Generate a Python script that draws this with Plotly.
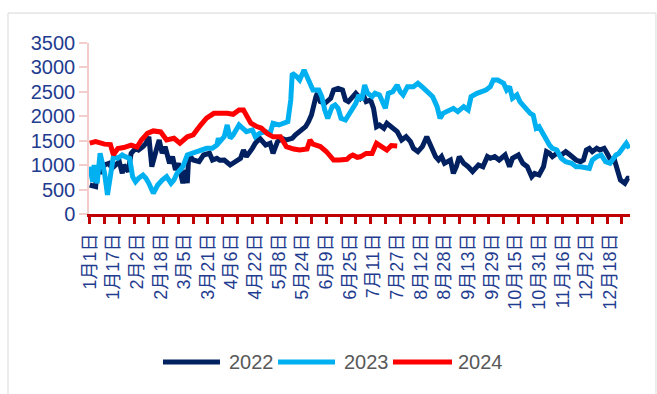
import plotly.graph_objects as go

# ---------------- data ----------------
tick_labels = ["1月1日", "1月17日", "2月2日", "2月18日", "3月5日", "3月21日", "4月6日",
               "4月22日", "5月8日", "5月24日", "6月9日", "6月25日", "7月11日", "7月27日",
               "8月12日", "8月28日", "9月13日", "9月29日", "10月15日", "10月31日",
               "11月16日", "12月2日", "12月18日"]
tick_days = [0, 16, 32, 48, 64, 80, 96, 112, 128, 144, 160, 176, 192, 208,
             224, 240, 256, 272, 288, 304, 320, 336, 352]

days_2022 = [0, 4, 5, 7, 10, 13, 15, 18, 20, 22, 23, 26, 28, 31, 33, 36, 38, 40, 41, 42,
             45, 47, 49, 51, 54, 56, 58, 60, 63, 65, 66, 67, 70, 74, 77, 81, 83, 86, 88, 91,
             95, 99, 102, 104, 106, 110, 112, 115, 119, 122, 124, 127, 130, 133, 137, 139, 142, 146, 148, 150,
             153, 154, 156, 159, 163, 165, 168, 171, 173, 175, 178, 180, 183, 185, 187, 190, 192, 194, 196, 199,
             201, 204, 208, 211, 214, 217, 219, 222, 225, 228, 230, 234, 236, 238, 240, 244, 246, 248, 250, 253,
             256, 259, 263, 266, 269, 271, 274, 277, 281, 284, 286, 290, 293, 296, 299, 301, 304, 307, 309, 311,
             313, 316, 319, 322, 325, 327, 329, 332, 334, 336, 338, 340, 343, 345, 348, 350, 353, 355, 357, 359,
             362, 364, 365]
vals_2022 = [594, 560, 968, 832, 1003, 1037, 935, 1003, 1071, 832, 1003, 866, 1242, 1344, 1310, 1378, 1447, 1583, 1174, 968,
             1310, 1515, 1242, 1378, 1037, 1174, 901, 1037, 631, 901, 631, 1208, 1105, 1071, 1208, 1242, 1105, 1140, 1100, 1105,
             1003, 1071, 1140, 1310, 1174, 1344, 1447, 1549, 1412, 1447, 1242, 1480, 1549, 1515, 1549, 1617, 1685, 1787, 1890, 2026,
             2401, 2470, 2300, 2265, 2367, 2538, 2572, 2538, 2333, 2300, 2401, 2470, 2367, 2436, 2300, 2333, 2163, 1787, 1822, 1754,
             1856, 1787, 1685, 1515, 1583, 1480, 1344, 1276, 1378, 1583, 1447, 1174, 1105, 1174, 1037, 1105, 832, 968, 1174, 1037,
             968, 870, 1003, 968, 1174, 1140, 1174, 1105, 1208, 968, 1140, 1208, 1037, 968, 764, 832, 798, 968, 1276, 1242,
             1174, 1242, 1208, 1276, 1208, 1140, 1105, 1071, 1105, 1310, 1344, 1276, 1344, 1310, 1344, 1242, 1071, 1105, 866, 696,
             628, 730, 730]

days_2023 = [0, 2, 3, 5, 7, 10, 12, 14, 16, 19, 22, 24, 27, 29, 31, 33, 36, 38, 40, 43,
             46, 49, 52, 55, 57, 59, 63, 66, 69, 73, 76, 79, 83, 86, 87, 88, 91, 93, 95, 97,
             101, 103, 106, 110, 112, 115, 119, 122, 124, 128, 131, 134, 136, 137, 140, 142, 145, 147, 149, 151,
             155, 157, 159, 161, 164, 166, 168, 170, 173, 176, 178, 180, 182, 184, 186, 188, 191, 193, 196, 200,
             202, 205, 208, 210, 212, 215, 219, 222, 226, 229, 232, 235, 237, 239, 242, 246, 249, 253, 256, 258,
             262, 265, 268, 271, 273, 276, 280, 282, 284, 286, 289, 291, 293, 295, 298, 300, 302, 304, 307, 309,
             311, 313, 316, 319, 322, 326, 329, 332, 336, 338, 340, 343, 346, 349, 352, 354, 356, 358, 361, 363,
             365]
vals_2023 = [968, 661, 1003, 628, 1242, 840, 389, 840, 1174, 1140, 1208, 1174, 1140, 764, 661, 730, 798, 730, 628, 423,
             594, 696, 764, 628, 696, 832, 968, 1208, 1242, 1276, 1310, 1344, 1344, 1412, 1549, 1480, 1583, 1822, 1549, 1617,
             1822, 1754, 1685, 1720, 1583, 1652, 1685, 1652, 1856, 1822, 1856, 1890, 2334, 2880, 2810, 2742, 2948, 2810, 2672, 2538,
             2538, 2401, 2129, 1959, 2197, 2231, 2163, 1959, 1924, 2060, 2129, 2265, 2436, 2333, 2640, 2470, 2401, 2470, 2436, 2163,
             2470, 2504, 2640, 2504, 2436, 2606, 2606, 2675, 2572, 2470, 2401, 2197, 1959, 2060, 2095, 2163, 2095, 2197, 2129, 2401,
             2470, 2504, 2538, 2606, 2743, 2743, 2675, 2538, 2606, 2368, 2436, 2300, 2231, 2129, 2060, 2026, 1754, 1787, 1617, 1515,
             1412, 1344, 1310, 1140, 1071, 1037, 968, 968, 935, 935, 1105, 1174, 1208, 1071, 1037, 1140, 1208, 1242, 1378, 1447,
             1344]

days_2024 = [0, 4, 10, 14, 16, 19, 23, 28, 32, 35, 39, 43, 48, 52, 57, 61, 66, 70, 75, 79,
             84, 88, 93, 97, 101, 104, 106, 109, 113, 116, 120, 124, 129, 133, 138, 142, 147, 149, 151, 156,
             160, 165, 169, 174, 176, 178, 181, 183, 187, 191, 194, 197, 201, 204, 208]
vals_2024 = [1450, 1480, 1430, 1420, 1210, 1340, 1360, 1410, 1370, 1515, 1650, 1700, 1680, 1515, 1550, 1450, 1580, 1620, 1820, 1960,
             2060, 2070, 2060, 2040, 2130, 2130, 2020, 1860, 1790, 1760, 1650, 1580, 1580, 1380, 1330, 1310, 1330, 1515, 1430, 1380,
             1280, 1105, 1105, 1120, 1174, 1208, 1160, 1170, 1240, 1240, 1447, 1380, 1310, 1400, 1390]

series_names = ["2022", "2023", "2024"]
series_colors = ["#002060", "#00B0F0", "#FF0000"]

# ---------------- figure ----------------
FONT = "Liberation Sans, Arial, Noto Sans CJK SC, sans-serif"
AX_BLUE = "#1F3C8F"
X_RED = "#C00000"
PINK = "#F3CCCC"

fig = go.Figure()
for name, color, xs, ys in zip(series_names, series_colors,
                               [days_2022, days_2023, days_2024],
                               [vals_2022, vals_2023, vals_2024]):
    fig.add_trace(go.Scatter(x=xs, y=ys, name=name, mode="lines",
                             line=dict(color=color, width=5), showlegend=False))

XR = [-0.5, 365.5]
fig.update_layout(
    width=657, height=394,
    margin=dict(l=89, r=27, t=43, b=180),
    paper_bgcolor="white", plot_bgcolor="white",
    font=dict(family=FONT),
    xaxis=dict(range=XR, tickmode="array", tickvals=list(range(0, 361, 10)),
               showticklabels=False, ticks="outside", ticklen=7, tickwidth=3,
               tickcolor=X_RED, showline=True, linecolor=X_RED, linewidth=3,
               showgrid=False, zeroline=False),
    xaxis2=dict(range=XR, overlaying="x", anchor="y", side="bottom",
                tickmode="array", tickvals=tick_days, ticktext=tick_labels,
                tickangle=-90, ticks="", showline=False, showgrid=False,
                zeroline=False, ticklabelstandoff=15,
                tickfont=dict(size=18, color=AX_BLUE, family=FONT)),
    yaxis=dict(range=[0, 3500], dtick=500, tick0=0, ticks="outside", ticklen=8,
               tickwidth=1.5, tickcolor=PINK, showline=True, linecolor=PINK,
               linewidth=1.5, showgrid=False, zeroline=False,
               tickfont=dict(size=20, color=AX_BLUE, family=FONT)),
)
# dummy trace to activate xaxis2
fig.add_trace(go.Scatter(x=[None], y=[None], xaxis="x2", showlegend=False, hoverinfo="skip"))

# outer border
fig.add_shape(type="rect", xref="paper", yref="paper",
              x0=-0.1497, x1=1.048, y0=-1.3, y1=1.175,
              line=dict(color="#D9D9D9", width=1), layer="below")

# custom legend (long line samples as in the reference)
leg_y = -0.8655
leg_x = [(0.1368, 0.2421, 0.2551), (0.3494, 0.4547, 0.4677), (0.5619, 0.6710, 0.6784)]
for (x0, x1, xt), name, color in zip(leg_x, series_names, series_colors):
    fig.add_shape(type="line", xref="paper", yref="paper", x0=x0, x1=x1, y0=leg_y, y1=leg_y,
                  line=dict(color=color, width=5))
    fig.add_annotation(xref="paper", yref="paper", x=xt, y=leg_y, text=name, showarrow=False,
                       xanchor="left", yanchor="middle",
                       font=dict(size=20, color="#595959", family=FONT))

fig.write_html("out.html")
